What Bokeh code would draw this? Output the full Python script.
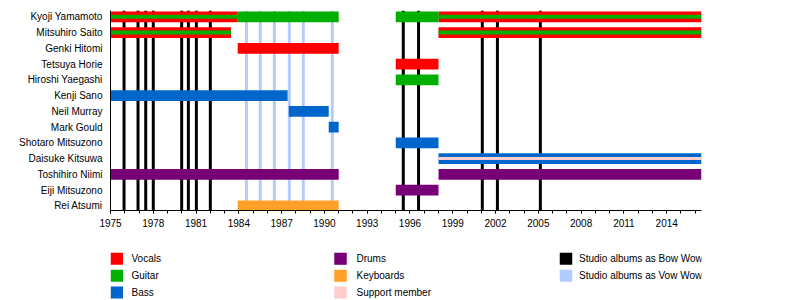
from bokeh.plotting import figure
from bokeh.layouts import column
from bokeh.models import Range1d, FixedTicker, ColumnDataSource
from bokeh.core.properties import value
from bokeh.embed import file_html
from bokeh.resources import INLINE

FONT = "Liberation Sans"

# ---------------- data ----------------
members = ["Kyoji Yamamoto", "Mitsuhiro Saito", "Genki Hitomi", "Tetsuya Horie",
           "Hiroshi Yaegashi", "Kenji Sano", "Neil Murray", "Mark Gould",
           "Shotaro Mitsuzono", "Daisuke Kitsuwa", "Toshihiro Niimi",
           "Eiji Mitsuzono", "Rei Atsumi"]

start_date = 1975.0
end_date = 2016.44

bar_member = ["Kyoji Yamamoto", "Mitsuhiro Saito", "Genki Hitomi", "Tetsuya Horie",
              "Kyoji Yamamoto", "Mitsuhiro Saito",
              "Kyoji Yamamoto", "Kyoji Yamamoto", "Hiroshi Yaegashi",
              "Kenji Sano", "Neil Murray", "Mark Gould", "Shotaro Mitsuzono", "Daisuke Kitsuwa",
              "Toshihiro Niimi", "Toshihiro Niimi", "Eiji Mitsuzono",
              "Rei Atsumi"]
bar_start = [1975.0, 1975.0, 1983.92, 1995.0,
             1998.0, 1998.0,
             1983.92, 1995.0, 1995.0,
             1975.0, 1987.5, 1990.3, 1995.0, 1998.0,
             1975.0, 1998.0, 1995.0,
             1983.92]
bar_end = [1983.92, 1983.45, 1991.0, 1998.0,
           end_date, end_date,
           1991.0, 1998.0, 1998.0,
           1987.42, 1990.3, 1991.0, 1998.0, end_date,
           1991.0, end_date, 1998.0,
           1991.0]
bar_role = ["Vocals", "Vocals", "Vocals", "Vocals",
            "Vocals", "Vocals",
            "Guitar", "Guitar", "Guitar",
            "Bass", "Bass", "Bass", "Bass", "Bass",
            "Drums", "Drums", "Drums",
            "Keyboards"]

stripe_member = ["Kyoji Yamamoto", "Mitsuhiro Saito", "Kyoji Yamamoto",
                 "Mitsuhiro Saito", "Daisuke Kitsuwa"]
stripe_start = [1975.0, 1975.0, 1998.0, 1998.0, 1998.0]
stripe_end = [1983.92, 1983.45, end_date, end_date, end_date]
stripe_role = ["Guitar", "Guitar", "Guitar", "Guitar", "Support member"]

bow_wow_albums = [1975.95, 1976.93, 1977.47, 1978.0, 1979.99, 1980.46, 1981.02,
                  1982.0, 1995.53, 1996.6, 2001.07, 2002.13, 2005.14]
vow_wow_albums = [1984.53, 1985.5, 1986.49, 1987.54, 1988.52, 1990.55]

year_ticks = [1975, 1978, 1981, 1984, 1987, 1990, 1993, 1996, 1999, 2002, 2005,
              2008, 2011, 2014]
minor_year_ticks = list(range(1975, 2017))

legend_labels = ["Vocals", "Guitar", "Bass", "Drums", "Keyboards", "Support member",
                 "Studio albums as Bow Wow", "Studio albums as Vow Wow"]

colors = {
    "Vocals": "#FF0000",
    "Guitar": "#00B000",
    "Bass": "#0066CC",
    "Drums": "#770077",
    "Keyboards": "#FFA028",
    "Support member": "#FFCCCC",
    "Studio albums as Bow Wow": "#000000",
    "Studio albums as Vow Wow": "#B3CCFF",
}

# ---------------- main chart ----------------
row_of = {m: i for i, m in enumerate(members)}
Y_TOP = -0.4
Y_BOT = 12.3

p = figure(width=800, height=240, output_backend="svg", toolbar_location=None,
           x_range=Range1d(start_date, end_date), y_range=Range1d(Y_BOT, Y_TOP),
           min_border_left=110, min_border_right=99, min_border_top=10,
           min_border_bottom=30)
p.outline_line_color = None
p.xgrid.visible = False
p.ygrid.visible = False
p.background_fill_color = "white"
p.border_fill_color = "white"

# album lines
p.segment(x0=vow_wow_albums, x1=vow_wow_albums,
          y0=[Y_TOP] * len(vow_wow_albums), y1=[Y_BOT] * len(vow_wow_albums),
          line_color=colors["Studio albums as Vow Wow"], line_width=3)
p.segment(x0=bow_wow_albums, x1=bow_wow_albums,
          y0=[Y_TOP] * len(bow_wow_albums), y1=[Y_BOT] * len(bow_wow_albums),
          line_color=colors["Studio albums as Bow Wow"], line_width=3)

bars = ColumnDataSource(dict(
    y=[row_of[m] for m in bar_member], left=bar_start, right=bar_end,
    color=[colors[r] for r in bar_role]))
p.hbar(y="y", left="left", right="right", height=0.68, fill_color="color",
       line_color=None, source=bars)

stripe_h = {"Guitar": 0.26, "Support member": 0.2}
stripes = ColumnDataSource(dict(
    y=[row_of[m] for m in stripe_member], left=stripe_start, right=stripe_end,
    h=[stripe_h[r] for r in stripe_role],
    color=[colors[r] for r in stripe_role]))
p.hbar(y="y", left="left", right="right", height="h", fill_color="color",
       line_color=None, source=stripes)

# x axis
xa = p.xaxis[0]
xa.ticker = FixedTicker(ticks=year_ticks, minor_ticks=minor_year_ticks)
xa.axis_line_color = "black"
xa.major_tick_line_color = "black"
xa.minor_tick_line_color = "black"
xa.major_tick_in = 0
xa.major_tick_out = 3
xa.minor_tick_in = 0
xa.minor_tick_out = 3
xa.major_label_standoff = 5
xa.major_label_text_font = FONT
xa.major_label_text_font_size = "10px"
xa.major_label_text_color = "black"

# y axis
ya = p.yaxis[0]
ya.ticker = FixedTicker(ticks=list(range(len(members))), minor_ticks=[])
ya.major_label_overrides = {i: m for i, m in enumerate(members)}
ya.axis_line_color = "black"
ya.major_tick_line_color = None
ya.major_tick_out = 0
ya.major_tick_in = 0
ya.minor_tick_line_color = None
ya.major_label_standoff = 8
ya.major_label_text_font = FONT
ya.major_label_text_font_size = "10px"
ya.major_label_text_color = "black"

# ---------------- legend ----------------
# The column layout aligns this frame with the chart frame (page pixels 110..701),
# so the legend's x range is expressed in page pixels over that span.
lg = figure(width=800, height=60, output_backend="svg", toolbar_location=None,
            x_range=Range1d(110, 701), y_range=Range1d(300, 240),
            x_axis_location=None, y_axis_location=None,
            min_border_left=110, min_border_right=99,
            min_border_top=0, min_border_bottom=0)
lg.outline_line_color = None
lg.xgrid.visible = False
lg.ygrid.visible = False
lg.background_fill_color = "white"
lg.border_fill_color = "white"

col_swatch_x = [116.3, 340.0, 565.5]
col_text_x = [131.0, 356.0, 578.5]
row_y = [258.3, 275.3, 292.0]

sx, sy, tx, ty, sc = [], [], [], [], []
for k, lab in enumerate(legend_labels):
    c, r = divmod(k, 3)
    sx.append(col_swatch_x[c])
    tx.append(col_text_x[c])
    sy.append(row_y[r])
    ty.append(row_y[r])
    sc.append(colors[lab])

lg.rect(x=sx, y=sy, width=12.5, height=12, fill_color=sc, line_color=None)
lg.text(x=tx, y=ty, text=legend_labels, text_font=value(FONT),
        text_font_size="10px", text_baseline="middle", text_align="left",
        text_color="black")

layout = column(p, lg, spacing=0)
open("out.html", "w").write(file_html(layout, INLINE))
